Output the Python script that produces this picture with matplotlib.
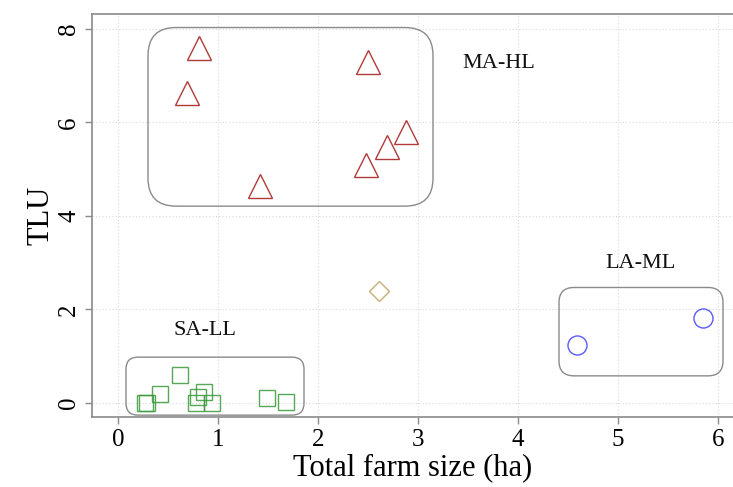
import numpy as np
import matplotlib
matplotlib.use('Agg')
import matplotlib.pyplot as plt
from matplotlib.patches import FancyBboxPatch

plt.rcParams['font.family'] = ['Liberation Serif', 'DejaVu Serif']

# MA-HL: trojkaty
ma_x = [0.81, 2.50, 0.69, 2.88, 2.69, 2.48, 1.42]
ma_y = [7.59, 7.30, 6.62, 5.79, 5.48, 5.08, 4.63]
# SA-LL: kwadraty
sa_x = [0.27, 0.29, 0.42, 0.62, 0.855, 0.80, 0.78, 0.94, 1.49, 1.68]
sa_y = [0.00, 0.00, 0.19, 0.60, 0.24, 0.13, 0.00, 0.00, 0.10, 0.03]
# LA-ML: kola
la_x = [4.59, 5.85]
la_y = [1.23, 1.81]
# punkt poza grupami
odd_x = [2.61]
odd_y = [2.40]

# ramki grup: (x0, y0, x1, y1, promien) i etykiety
grupy = ['MA-HL', 'LA-ML', 'SA-LL']
ramki = [(0.30, 4.21, 3.15, 8.03, 0.28),
         (4.41, 0.58, 6.05, 2.47, 0.15),
         (0.08, -0.26, 1.86, 0.98, 0.12)]
etykiety_xy = [(3.81, 7.25), (5.22, 2.99), (0.87, 1.54)]

fig = plt.figure(figsize=(7.33, 4.87), dpi=100)
ax = fig.add_axes([92 / 733, (487 - 417) / 487, 1 - 92 / 733, (417 - 13.5) / 487])

xlim = (-0.26, 6.15)
ylim = (-0.30, 8.33)
ax.set_xlim(*xlim)
ax.set_ylim(*ylim)

ax.grid(True, color='#d8d8d8', linestyle=(0, (1, 2)), linewidth=0.8)
ax.set_axisbelow(True)

ax.plot(ma_x, ma_y, linestyle='none', marker='^', markersize=17,
        markerfacecolor='none', markeredgecolor='#b03a3a', markeredgewidth=1.0)
ax.plot(sa_x, sa_y, linestyle='none', marker='s', markersize=12.2,
        markerfacecolor='none', markeredgecolor='#3a9a3a', markeredgewidth=1.0, alpha=0.85)
ax.plot(la_x, la_y, linestyle='none', marker='o', markersize=13.7,
        markerfacecolor='none', markeredgecolor='#5a5aff', markeredgewidth=1.0)
ax.plot(odd_x, odd_y, linestyle='none', marker='D', markersize=10,
        markerfacecolor='none', markeredgecolor='#c9ad78', markeredgewidth=1.0)

# proporcja px na jednostke x / px na jednostke y
aspect = (ylim[1] - ylim[0]) / (xlim[1] - xlim[0]) * (1 - 92 / 733) * 733 / ((417 - 13.5))
for (x0, y0, x1, y1, r), nazwa, (tx, ty) in zip(ramki, grupy, etykiety_xy):
    box = FancyBboxPatch((x0, y0), x1 - x0, y1 - y0,
                         boxstyle='round,pad=0,rounding_size=%.3f' % r,
                         mutation_aspect=aspect, facecolor='none',
                         edgecolor='#8a8a8a', linewidth=1.0)
    ax.add_patch(box)
    ax.text(tx, ty, nazwa, fontsize=16, ha='center', va='center', color='#111111')

ax.set_xticks(range(0, 7))
ax.set_yticks(range(0, 9, 2))
ax.tick_params(axis='both', direction='out', length=5, color='#8a8a8a',
               labelsize=18, width=1.0)
for lbl in ax.get_yticklabels():
    lbl.set_rotation(90)
    lbl.set_va('center')

for s in ['left', 'bottom', 'top']:
    ax.spines[s].set_color('#8a8a8a')
    ax.spines[s].set_linewidth(1.2)
ax.spines['right'].set_visible(False)

ax.set_xlabel('Total farm size (ha)', fontsize=22, labelpad=2)
ax.set_ylabel('TLU', fontsize=22, labelpad=2)

fig.savefig('out.png', dpi=100)
